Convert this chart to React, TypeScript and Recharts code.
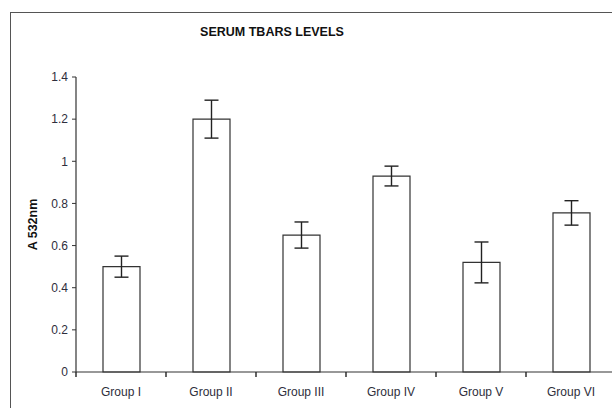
import { Bar, BarChart, ErrorBar, XAxis, YAxis } from "recharts";

const groups = ["Group I", "Group II", "Group III", "Group IV", "Group V", "Group VI"];
const tbarsMeans = [0.5, 1.2, 0.65, 0.93, 0.52, 0.755];
const tbarsErrors = [0.05, 0.09, 0.062, 0.047, 0.097, 0.058];
const yTicks = [0, 0.2, 0.4, 0.6, 0.8, 1, 1.2, 1.4];

const data = groups.map((g, i) => ({
	group: g,
	mean: tbarsMeans[i],
	err: tbarsErrors[i],
}));

const font = "'Liberation Sans', Arial, sans-serif";
const textColor = "#2e2e3c";

// category label with tick marks at the band edges (Excel style)
function GroupTick(props: any) {
	const { x, y, payload, index, visibleTicksCount } = props;
	const half = payload.offset;
	const last = index === visibleTicksCount - 1;
	return (
		<g>
			<path d={`M${x - half},${y}V${y + 5}`} stroke="#222" strokeWidth={1.4} fill="none" />
			{last && <path d={`M${x + half},${y}V${y + 5}`} stroke="#222" strokeWidth={1.4} fill="none" />}
			<text
				x={x}
				y={y + 24}
				textAnchor="middle"
				fill={textColor}
				fontSize={12}
				fontFamily={font}
			>
				{payload.value}
			</text>
		</g>
	);
}

export default function App() {
	return (
		<div
			style={{
				position: "fixed",
				left: 0,
				top: 0,
				width: 612,
				height: 408,
				overflow: "hidden",
				background: "#fff",
				fontFamily: font,
			}}
		>
			<div
				style={{
					position: "absolute",
					left: 10,
					top: 12,
					width: 660,
					height: 440,
					border: "1.5px solid #555",
				}}
			/>
			<div
				style={{
					position: "absolute",
					left: 172,
					width: 200,
					top: 25,
					textAlign: "center",
					fontWeight: "bold",
					fontSize: 12.5,
					color: "#111",
				}}
			>
				SERUM TBARS LEVELS
			</div>
			<div style={{ position: "absolute", left: 0, top: 0 }}>
				<BarChart
					width={640}
					height={430}
					data={data}
					margin={{ top: 77, right: 24, left: 16, bottom: 18 }}
				>
					<XAxis
						dataKey="group"
						tickLine={false}
						tickSize={0}
						tickMargin={0}
						axisLine={{ stroke: "#333", strokeWidth: 1.2 }}
						tick={<GroupTick />}
						height={40}
						interval={0}
					/>
					<YAxis
						domain={[0, 1.4]}
						ticks={yTicks}
						width={60}
						tickSize={4}
						tickMargin={4}
						stroke="#333"
						axisLine={{ stroke: "#333", strokeWidth: 1.2 }}
						tick={{ fill: textColor, fontSize: 12, fontFamily: font }}
						label={{
							value: "A 532nm",
							angle: -90,
							position: "insideLeft",
							offset: 17,
							style: {
								textAnchor: "middle",
								fontWeight: "bold",
								fontSize: 12.5,
								fill: "#111",
								fontFamily: font,
							},
						}}
					/>
					<Bar
						dataKey="mean"
						fill="#fff"
						stroke="#333"
						strokeWidth={1.2}
						barSize={37}
						isAnimationActive={false}
					>
						<ErrorBar dataKey="err" width={7} stroke="#222" strokeWidth={1.4} direction="y" />
					</Bar>
				</BarChart>
			</div>
		</div>
	);
}
